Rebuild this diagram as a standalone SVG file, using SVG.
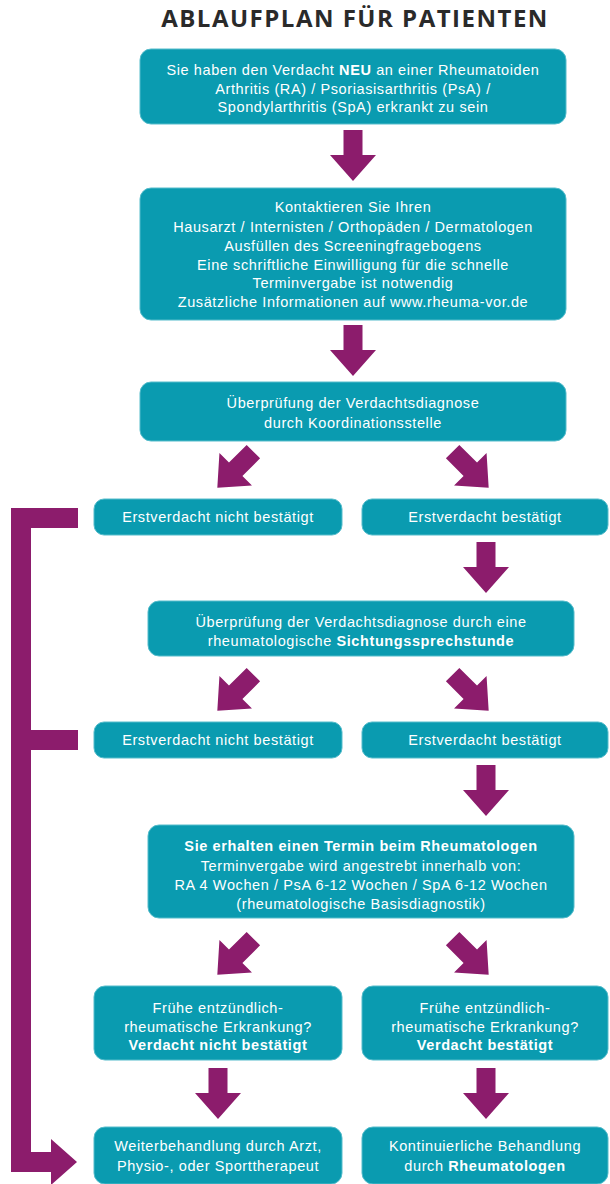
<svg xmlns="http://www.w3.org/2000/svg" xmlns:xlink="http://www.w3.org/1999/xlink" width="610" height="1184" viewBox="0 0 610 1184">
<style>
.box{fill:#0a9bb0;stroke:#55bccb;stroke-width:1}
.t{font-family:"Liberation Sans",Arial,sans-serif;font-size:14.5px;letter-spacing:0.6px;fill:#ffffff;text-anchor:middle}
.b{font-weight:bold}
.title{font-family:"Open Sans","DejaVu Sans",sans-serif;font-weight:bold;font-size:24px;letter-spacing:1.5px;fill:#2a2a2a;text-anchor:middle}
.arr{fill:#8c1c6c}
</style>
<defs>
<path id="arrow" d="M-9.5,-25 H9.5 V0 H23 L0,26 L-23,0 H-9.5 Z"/>
</defs>
<rect width="610" height="1184" fill="#ffffff"/>
<text class="title" x="355" y="27">ABLAUFPLAN FÜR PATIENTEN</text>

<g id="connectors" class="arr">
<use xlink:href="#arrow" transform="translate(353,155)"/>
<use xlink:href="#arrow" transform="translate(353,350)"/>
<use xlink:href="#arrow" transform="translate(235.7,469.3) rotate(45)"/>
<use xlink:href="#arrow" transform="translate(470.3,469.3) rotate(-45)"/>
<use xlink:href="#arrow" transform="translate(486,567)"/>
<use xlink:href="#arrow" transform="translate(235.7,692.3) rotate(45)"/>
<use xlink:href="#arrow" transform="translate(470.3,692.3) rotate(-45)"/>
<use xlink:href="#arrow" transform="translate(486,790)"/>
<use xlink:href="#arrow" transform="translate(235.7,956.3) rotate(45)"/>
<use xlink:href="#arrow" transform="translate(470.3,956.3) rotate(-45)"/>
<use xlink:href="#arrow" transform="translate(218,1093)"/>
<use xlink:href="#arrow" transform="translate(486,1093)"/>
<path d="M11,508 H78 V528 H31 V730 H78 V750 H31 V1152 H51 V1139 L77,1162 L51,1185 V1172 H11 Z"/>
</g>

<g id="n1">
<rect class="box" x="140" y="49" width="426" height="75" rx="11"/>
<text class="t" x="353" y="75">Sie haben den Verdacht <tspan class="b">NEU</tspan> an einer Rheumatoiden</text>
<text class="t" x="353" y="94">Arthritis (RA) / Psoriasisarthritis (PsA) /</text>
<text class="t" x="353" y="112">Spondylarthritis (SpA) erkrankt zu sein</text>
</g>

<g id="n2">
<rect class="box" x="140" y="188" width="426" height="132" rx="11"/>
<text class="t" x="353" y="212">Kontaktieren Sie Ihren</text>
<text class="t" x="353" y="232">Hausarzt / Internisten / Orthopäden / Dermatologen</text>
<text class="t" x="353" y="251">Ausfüllen des Screeningfragebogens</text>
<text class="t" x="353" y="270">Eine schriftliche Einwilligung für die schnelle</text>
<text class="t" x="353" y="288">Terminvergabe ist notwendig</text>
<text class="t" x="353" y="307">Zusätzliche Informationen auf www.rheuma-vor.de</text>
</g>

<g id="n3">
<rect class="box" x="140" y="382" width="426" height="59" rx="11"/>
<text class="t" x="353" y="408">Überprüfung der Verdachtsdiagnose</text>
<text class="t" x="353" y="428">durch Koordinationsstelle</text>
</g>

<g id="n4a">
<rect class="box" x="94" y="499" width="248" height="36" rx="10"/>
<text class="t" x="218" y="522">Erstverdacht nicht bestätigt</text>
</g>
<g id="n4b">
<rect class="box" x="362" y="499" width="246" height="36" rx="10"/>
<text class="t" x="485" y="522">Erstverdacht bestätigt</text>
</g>

<g id="n5">
<rect class="box" x="148" y="601" width="426" height="55" rx="11"/>
<text class="t" x="361" y="627">Überprüfung der Verdachtsdiagnose durch eine</text>
<text class="t" x="361" y="646">rheumatologische <tspan class="b">Sichtungssprechstunde</tspan></text>
</g>

<g id="n6a">
<rect class="box" x="94" y="722" width="248" height="36" rx="10"/>
<text class="t" x="218" y="745">Erstverdacht nicht bestätigt</text>
</g>
<g id="n6b">
<rect class="box" x="362" y="722" width="246" height="36" rx="10"/>
<text class="t" x="485" y="745">Erstverdacht bestätigt</text>
</g>

<g id="n7">
<rect class="box" x="148" y="825" width="426" height="93" rx="11"/>
<text class="t b" x="361" y="851">Sie erhalten einen Termin beim Rheumatologen</text>
<text class="t" x="361" y="871">Terminvergabe wird angestrebt innerhalb von:</text>
<text class="t" x="361" y="890">RA 4 Wochen / PsA 6-12 Wochen / SpA 6-12 Wochen</text>
<text class="t" x="361" y="909">(rheumatologische Basisdiagnostik)</text>
</g>

<g id="n8a">
<rect class="box" x="94" y="986" width="248" height="74" rx="11"/>
<text class="t" x="218" y="1013">Frühe entzündlich-</text>
<text class="t" x="218" y="1032">rheumatische Erkrankung?</text>
<text class="t b" x="218" y="1050">Verdacht nicht bestätigt</text>
</g>
<g id="n8b">
<rect class="box" x="362" y="986" width="246" height="74" rx="11"/>
<text class="t" x="485" y="1013">Frühe entzündlich-</text>
<text class="t" x="485" y="1032">rheumatische Erkrankung?</text>
<text class="t b" x="485" y="1050">Verdacht bestätigt</text>
</g>

<g id="n9a">
<rect class="box" x="94" y="1127" width="248" height="57" rx="11"/>
<text class="t" x="218" y="1151">Weiterbehandlung durch Arzt,</text>
<text class="t" x="218" y="1171">Physio-, oder Sporttherapeut</text>
</g>
<g id="n9b">
<rect class="box" x="362" y="1127" width="246" height="57" rx="11"/>
<text class="t" x="485" y="1151">Kontinuierliche Behandlung</text>
<text class="t" x="485" y="1171">durch <tspan class="b">Rheumatologen</tspan></text>
</g>
</svg>
